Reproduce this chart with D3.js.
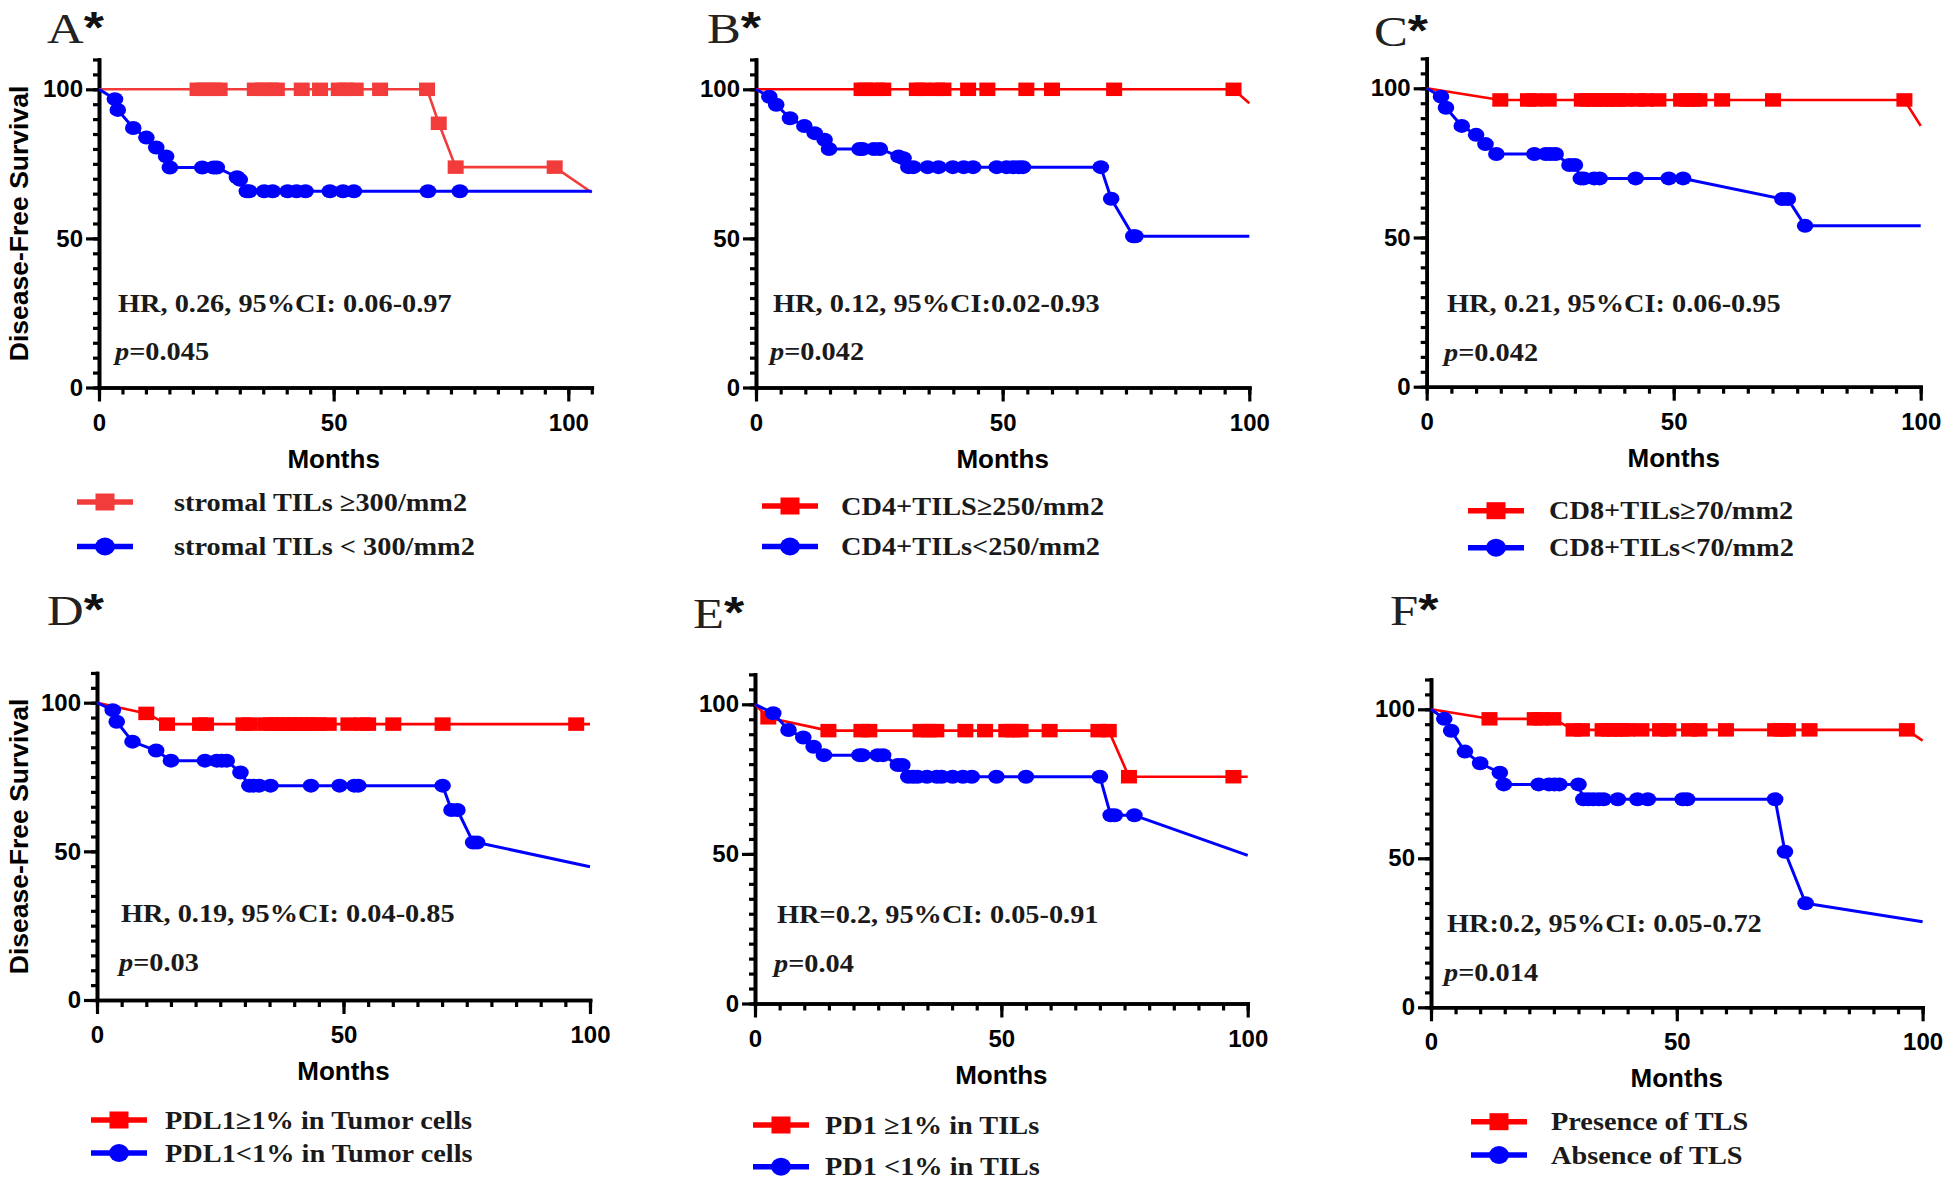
<!DOCTYPE html>
<html>
<head>
<meta charset="utf-8">
<script src="https://cdn.jsdelivr.net/npm/d3@7"></script>
<style>
  body { margin: 0; background: #fff; }
  svg { display: block; }
  .tick text { font-family: 'Liberation Sans', Arial, sans-serif; font-weight: bold; font-size: 24px; fill: #000; }
  .sans { font-family: 'Liberation Sans', Arial, sans-serif; font-weight: bold; }
  .serif { font-family: 'Liberation Serif', 'Times New Roman', serif; font-weight: bold; fill: #1a1a1a; }
</style>
</head>
<body>
<svg id="chart"></svg>
<script>
// ---- data (months, % disease-free) ----
const panelLetters = ['A', 'B', 'C', 'D', 'E', 'F'];
const xTicks = [0, 50, 100];
const yTicks = [0, 50, 100];
const hrTexts = [
  'HR, 0.26, 95%CI: 0.06-0.97',
  'HR, 0.12, 95%CI:0.02-0.93',
  'HR, 0.21, 95%CI: 0.06-0.95',
  'HR, 0.19, 95%CI: 0.04-0.85',
  'HR=0.2, 95%CI: 0.05-0.91',
  'HR:0.2, 95%CI: 0.05-0.72'
];
const pTexts = ['=0.045', '=0.042', '=0.042', '=0.03', '=0.04', '=0.014'];
const highLabels = ['stromal TILs \u2265300/mm2', 'CD4+TILS\u2265250/mm2', 'CD8+TILs\u226570/mm2',
  'PDL1\u22651% in Tumor cells', 'PD1 \u22651% in TILs', 'Presence of TLS'];
const lowLabels = ['stromal TILs < 300/mm2', 'CD4+TILs<250/mm2', 'CD8+TILs<70/mm2',
  'PDL1<1% in Tumor cells', 'PD1 <1% in TILs', 'Absence of TLS'];

const panelA_high = [[21.0,100],[22.3,100],[24.4,100],[25.7,100],[33.2,100],[34.9,100],[36.6,100],[37.9,100],
  [43.2,100],[47.1,100],[51.1,100],[52.6,100],[54.7,100],[59.9,100],[69.9,100],[72.4,88.6],[76.0,73.9],[97.1,73.9]];
const panelA_highEnd = [105, 65.4];
const panelA_low = [[3.4,96.7],[4.0,93.1],[7.3,87.0],[10.1,83.8],[12.2,80.5],[14.3,77.5],[15.1,73.8],[22.0,73.8],
  [24.4,73.8],[25.1,73.8],[29.4,70.5],[30.0,69.7],[31.5,65.8],[32.0,65.8],[35.2,65.8],[37.0,65.8],[40.2,65.8],
  [42.1,65.8],[44.0,65.8],[49.2,65.8],[52.0,65.8],[54.3,65.8],[70.1,65.8],[76.9,65.8]];
const panelA_lowEnd = [105, 65.8];

const panelB_high = [[21.4,100],[22.2,100],[24.5,100],[25.8,100],[32.6,100],[33.8,100],[36.7,100],[38.0,100],
  [43.0,100],[46.9,100],[54.8,100],[60.0,100],[72.6,100],[96.8,100]];
const panelB_highEnd = [100, 95.3];
const panelB_low = [[2.7,97.5],[4.1,94.8],[6.9,90.3],[9.8,87.7],[11.9,85.3],[13.9,83.1],[14.8,80.0],[21.0,80.0],
  [21.6,80.0],[23.9,80.0],[25.1,80.0],[28.9,77.5],[29.9,76.9],[30.9,73.9],[31.9,73.9],[34.8,73.9],[37.0,73.9],
  [39.9,73.9],[42.1,73.9],[44.0,73.9],[48.8,73.9],[50.8,73.9],[52.1,73.9],[53.3,73.9],[54.1,73.9],[69.9,73.9],
  [72.0,63.3],[76.5,50.7],[76.9,50.7]];
const panelB_lowEnd = [100, 50.7];

const panelC_high = [[14.9,96.1],[20.5,96.1],[21.8,96.1],[24.7,96.1],[31.4,96.1],[32.6,96.1],[33.9,96.1],[35.1,96.1],
  [36.4,96.1],[37.7,96.1],[38.9,96.1],[40.2,96.1],[42.7,96.1],[44.4,96.1],[46.9,96.1],[51.5,96.1],[52.7,96.1],
  [54.0,96.1],[55.2,96.1],[59.8,96.1],[70.1,96.1],[96.7,96.1]];
const panelC_highEnd = [100, 87.4];
const panelC_low = [[2.9,97.2],[3.9,93.5],[7.1,87.4],[10.0,84.4],[11.9,81.3],[14.1,78.0],[21.8,78.0],[24.1,78.0],
  [25.1,78.0],[26.1,78.0],[28.9,74.3],[30.0,74.3],[31.2,69.8],[31.8,69.8],[33.9,69.8],[35.0,69.8],[42.3,69.8],
  [49.0,69.8],[51.9,69.8],[72.0,62.9],[73.1,62.9],[76.6,53.9]];
const panelC_lowEnd = [100, 53.9];

const panelD_high = [[10.0,96.4],[14.2,92.8],[20.9,92.8],[22.1,92.8],[29.7,92.8],[30.9,92.8],[34.1,92.8],[35.3,92.8],
  [36.5,92.8],[37.8,92.8],[39.0,92.8],[40.2,92.8],[41.4,92.8],[42.6,92.8],[43.8,92.8],[45.0,92.8],[47.0,92.8],
  [51.0,92.8],[53.8,92.8],[55.0,92.8],[60.1,92.8],[70.1,92.8],[97.2,92.8]];
const panelD_highEnd = [100, 92.8];
const panelD_low = [[3.2,97.5],[4.0,93.6],[7.2,86.9],[12.0,83.9],[15.0,80.5],[21.9,80.5],[24.3,80.5],[25.3,80.5],
  [26.3,80.5],[29.1,76.5],[30.9,72.1],[31.7,72.1],[32.9,72.1],[35.2,72.1],[43.4,72.1],[49.2,72.1],[52.2,72.1],
  [53.0,72.1],[70.1,72.1],[71.9,63.9],[73.1,63.9],[76.3,53.0],[77.1,53.0]];
const panelD_lowEnd = [100, 44.8];

const panelE_high = [[2.7,95.5],[14.9,91.2],[21.6,91.2],[23.2,91.2],[33.6,91.2],[35.3,91.2],[36.8,91.2],[42.7,91.2],
  [46.7,91.2],[51.0,91.2],[52.3,91.2],[53.9,91.2],[59.8,91.2],[69.7,91.2],[71.8,91.2],[75.9,75.8],[97.1,75.8]];
const panelE_highEnd = [100, 75.8];
const panelE_low = [[3.7,97.0],[6.8,91.4],[9.8,88.9],[11.9,85.8],[14.0,83.0],[21.2,83.0],[21.8,83.0],[24.9,83.0],
  [26.0,83.0],[29.0,79.7],[29.9,79.7],[31.1,75.8],[32.1,75.8],[33.0,75.8],[34.9,75.8],[36.9,75.8],[37.9,75.8],
  [40.1,75.8],[42.2,75.8],[44.0,75.8],[49.0,75.8],[55.0,75.8],[70.0,75.8],[72.2,62.9],[73.0,62.9],[77.0,62.9]];
const panelE_lowEnd = [100, 49.5];

const panelF_high = [[11.9,96.8],[21.1,96.8],[22.3,96.8],[24.9,96.8],[29.0,93.1],[30.7,93.1],[34.9,93.1],[36.2,93.1],
  [37.4,93.1],[38.7,93.1],[39.9,93.1],[42.8,93.1],[46.6,93.1],[48.3,93.1],[52.5,93.1],[54.6,93.1],[60.0,93.1],
  [70.0,93.1],[71.3,93.1],[72.6,93.1],[77.0,93.1],[96.8,93.1]];
const panelF_highEnd = [100, 89.5];
const panelF_low = [[2.7,96.8],[4.1,92.8],[6.9,85.8],[10.0,81.9],[14.0,78.7],[14.8,74.8],[21.9,74.8],[24.0,74.8],
  [25.1,74.8],[26.1,74.8],[30.0,74.8],[31.0,69.8],[32.0,69.8],[33.0,69.8],[34.1,69.8],[35.1,69.8],[38.0,69.8],
  [42.0,69.8],[44.1,69.8],[51.2,69.8],[52.1,69.8],[70.0,69.8],[72.0,52.2],[76.2,34.9]];
const panelF_lowEnd = [100, 28.7];

const series = [
  { high: panelA_high, highEnd: panelA_highEnd, low: panelA_low, lowEnd: panelA_lowEnd },
  { high: panelB_high, highEnd: panelB_highEnd, low: panelB_low, lowEnd: panelB_lowEnd },
  { high: panelC_high, highEnd: panelC_highEnd, low: panelC_low, lowEnd: panelC_lowEnd },
  { high: panelD_high, highEnd: panelD_highEnd, low: panelD_low, lowEnd: panelD_lowEnd },
  { high: panelE_high, highEnd: panelE_highEnd, low: panelE_low, lowEnd: panelE_lowEnd },
  { high: panelF_high, highEnd: panelF_highEnd, low: panelF_low, lowEnd: panelF_lowEnd }
];

// ---- layout (pixel positions, kept apart from the data) ----
const layout = [
  { x0: 99, x100: 568.3, xMax: 105, y0: 387.5, y100: 89.3, letter: [47, 43], hr: [118, 312], p: [115, 360],
    leg: { x: 77, yHi: 502, yLo: 546.5, tx: 174 }, yTitle: true, red: '#f23c3c' },
  { x0: 756, x100: 1249.3, xMax: 100, y0: 387.5, y100: 89.3, letter: [707, 43], hr: [773, 312], p: [770, 360],
    leg: { x: 762, yHi: 506, yLo: 546.5, tx: 841 }, yTitle: false, red: '#ff0000' },
  { x0: 1426.7, x100: 1920.7, xMax: 100, y0: 386.7, y100: 88.3, letter: [1374, 46], hr: [1447, 312], p: [1444, 361],
    leg: { x: 1468, yHi: 510.7, yLo: 547.7, tx: 1549 }, yTitle: false, red: '#ff0000' },
  { x0: 97, x100: 590, xMax: 100, y0: 1000, y100: 702.7, letter: [47, 625], hr: [121, 921.7], p: [119, 970.7],
    leg: { x: 91, yHi: 1120, yLo: 1153, tx: 165 }, yTitle: true, red: '#ff0000' },
  { x0: 755, x100: 1247.7, xMax: 100, y0: 1003.5, y100: 704.3, letter: [693, 628], hr: [777, 922.7], p: [774, 971.7],
    leg: { x: 753, yHi: 1125, yLo: 1166.7, tx: 825 }, yTitle: false, red: '#ff0000' },
  { x0: 1431, x100: 1922.6, xMax: 100, y0: 1007.3, y100: 709.3, letter: [1390, 625], hr: [1447, 931.7], p: [1444, 981],
    leg: { x: 1471, yHi: 1121.7, yLo: 1155, tx: 1551 }, yTitle: false, red: '#ff0000' }
];

const blue = '#0000ff';
const textStretch = 1.09;   // serif lettering in the figure is drawn a bit wide
const letterStretch = 1.18;

const svg = d3.select('#chart').attr('width', 1946).attr('height', 1181);

const drawSquare = (sel, cx, cy, w, h, color) =>
  sel.append('rect').attr('x', cx - w / 2).attr('y', cy - h / 2).attr('width', w).attr('height', h).attr('fill', color);
const drawDot = (sel, cx, cy, rx, ry, color) =>
  sel.append('ellipse').attr('cx', cx).attr('cy', cy).attr('rx', rx).attr('ry', ry).attr('fill', color);

series.forEach((s, i) => {
  const L = layout[i];
  const k = (L.x100 - L.x0) / 100;
  const x = d3.scaleLinear().domain([0, L.xMax]).range([L.x0, L.x0 + k * L.xMax]);
  const ky = (L.y0 - L.y100) / 100;
  const y = d3.scaleLinear().domain([0, 110]).range([L.y0, L.y0 - ky * 110]);

  const g = svg.append('g');

  // axes: minor ticks every 5, major at 0/50/100
  g.append('g').attr('transform', `translate(0,${L.y0})`)
    .call(d3.axisBottom(x).tickValues(d3.range(0, L.xMax + 1, 5)).tickSize(7).tickSizeOuter(0).tickFormat(''));
  g.append('g').attr('transform', `translate(0,${L.y0})`)
    .call(d3.axisBottom(x).tickValues(xTicks).tickSize(14).tickPadding(12).tickSizeOuter(0));
  g.append('g').attr('transform', `translate(${L.x0},0)`)
    .call(d3.axisLeft(y).tickValues(d3.range(0, 111, 5)).tickSize(6).tickSizeOuter(0).tickFormat(''));
  g.append('g').attr('transform', `translate(${L.x0},0)`)
    .call(d3.axisLeft(y).tickValues(yTicks).tickSize(13).tickPadding(3).tickSizeOuter(0));

  g.selectAll('.domain').attr('stroke', '#000').attr('stroke-width', 3.6).attr('stroke-linecap', 'square');
  g.selectAll('.tick line').attr('stroke', '#000').attr('stroke-width', 3.2);

  // axis titles
  g.append('text').attr('class', 'sans')
    .attr('x', (x(0) + x(100)) / 2).attr('y', L.y0 + 80)
    .attr('text-anchor', 'middle').style('font-size', '26px')
    .text('Months');

  if (L.yTitle) {
    g.append('text').attr('class', 'sans')
      .attr('transform', `translate(28,${y(55)}) rotate(-90)`)
      .attr('text-anchor', 'middle').style('font-size', '26.5px')
      .text('Disease-Free Survival');
  }

  // curves
  const line = d3.line().x((d) => x(d[0])).y((d) => y(d[1]));
  const hiPts = [[0, 100], ...s.high, s.highEnd];
  const loPts = [[0, 100], ...s.low, s.lowEnd];

  g.append('path').attr('d', line(hiPts)).attr('fill', 'none')
    .attr('stroke', L.red).attr('stroke-width', 2.6).attr('stroke-linejoin', 'round');
  s.high.forEach((d) => drawSquare(g, x(d[0]), y(d[1]), 16, 13.5, L.red));

  g.append('path').attr('d', line(loPts)).attr('fill', 'none')
    .attr('stroke', blue).attr('stroke-width', 3).attr('stroke-linejoin', 'round');
  s.low.forEach((d) => drawDot(g, x(d[0]), y(d[1]), 8.3, 7, blue));

  // panel letter
  const lt = g.append('text').attr('transform', `translate(${L.letter[0]},${L.letter[1]}) scale(${letterStretch},1)`);
  lt.append('tspan').style('font-family', "'Liberation Serif', 'Times New Roman', serif")
    .style('font-size', '43px').attr('fill', '#222').text(panelLetters[i]);
  lt.append('tspan').attr('class', 'sans').style('font-size', '44px').attr('fill', '#111').text('*');

  // HR and p annotations
  g.append('text').attr('class', 'serif').style('font-size', '26px')
    .attr('transform', `translate(${L.hr[0]},${L.hr[1]}) scale(${textStretch},1)`)
    .text(hrTexts[i]);
  const pt = g.append('text').attr('class', 'serif').style('font-size', '26px')
    .attr('transform', `translate(${L.p[0]},${L.p[1]}) scale(${textStretch},1)`);
  pt.append('tspan').style('font-style', 'italic').text('p');
  pt.append('tspan').text(pTexts[i]);

  // legend
  const lg = L.leg;
  const legRows = [
    { y: lg.yHi, color: L.red, label: highLabels[i], shape: 'square' },
    { y: lg.yLo, color: blue, label: lowLabels[i], shape: 'dot' }
  ];
  legRows.forEach((r) => {
    g.append('line').attr('x1', lg.x).attr('x2', lg.x + 56).attr('y1', r.y).attr('y2', r.y)
      .attr('stroke', r.color).attr('stroke-width', 5.5);
    if (r.shape === 'square') drawSquare(g, lg.x + 28, r.y, 19, 17, r.color);
    else drawDot(g, lg.x + 28, r.y, 10, 9, r.color);
    g.append('text').attr('class', 'serif').style('font-size', '26px')
      .attr('transform', `translate(${lg.tx},${r.y + 8.5}) scale(${textStretch},1)`)
      .text(r.label);
  });
});
</script>
</body>
</html>
